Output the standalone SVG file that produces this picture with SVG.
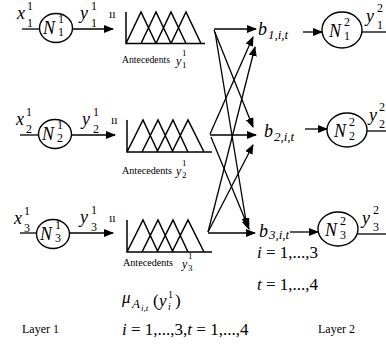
<svg xmlns="http://www.w3.org/2000/svg" width="386" height="347" viewBox="0 0 386 347">
<defs>
<marker id="ah" markerWidth="10" markerHeight="8" refX="9" refY="4" orient="auto" markerUnits="userSpaceOnUse">
<path d="M0,0 L10,4 L0,8 Z" fill="#000"/>
</marker>
<style>
text{font-family:"Liberation Serif","Times New Roman",serif;fill:#000}
.it{font-style:italic}
.m{font-size:18px;font-style:italic}
.s{font-size:12px}
.si{font-size:13px;font-style:italic}
.lbl{font-size:11px}
.sm{font-size:9px}
.b{font-size:18px;font-style:italic}
.node{fill:#fff;stroke:#000;stroke-width:1.4}
.ln{fill:none;stroke:#000;stroke-width:1.3}
.ar{fill:none;stroke:#000;stroke-width:1.3;marker-end:url(#ah)}
.fz{fill:none;stroke:#000;stroke-width:1.5}
</style>
</defs>
<rect width="386" height="347" fill="#fff"/>

<!-- Layer 1 neurons -->
<g id="n11">
<line class="ln" x1="22" y1="29" x2="40" y2="29"/>
<ellipse class="node" cx="56" cy="28" rx="16.5" ry="14.5"/>
<text class="m" x="17" y="19">x</text><text class="s" x="27" y="10">1</text><text class="s" x="27" y="27">1</text>
<text class="m" x="43" y="34">N</text><text class="s" x="58" y="23">1</text><text class="s" x="58" y="36">1</text>
<line class="ar" x1="72" y1="29" x2="113" y2="29"/>
<text class="m" x="80" y="19">y</text><text class="s" x="91" y="10">1</text><text class="s" x="91" y="27">1</text>
<text x="109" y="18" style="font-size:12px">ıı</text>
</g>
<g id="n21">
<line class="ln" x1="20" y1="135" x2="39" y2="135"/>
<ellipse class="node" cx="55" cy="134" rx="16.5" ry="14.5"/>
<text class="m" x="16" y="125">x</text><text class="s" x="26" y="116">1</text><text class="s" x="26" y="133">2</text>
<text class="m" x="42" y="140">N</text><text class="s" x="57" y="129">1</text><text class="s" x="57" y="142">2</text>
<line class="ar" x1="71" y1="135" x2="115" y2="135"/>
<text class="m" x="82" y="125">y</text><text class="s" x="93" y="116">1</text><text class="s" x="93" y="133">2</text>
<text x="111" y="124" style="font-size:12px">ıı</text>
</g>
<g id="n31">
<line class="ln" x1="20" y1="233" x2="37" y2="233"/>
<ellipse class="node" cx="53" cy="234" rx="16.5" ry="14.5"/>
<text class="m" x="14" y="224">x</text><text class="s" x="24" y="215">1</text><text class="s" x="24" y="232">3</text>
<text class="m" x="40" y="240">N</text><text class="s" x="55" y="229">1</text><text class="s" x="55" y="242">3</text>
<line class="ar" x1="69" y1="233" x2="113" y2="233"/>
<text class="m" x="80" y="223">y</text><text class="s" x="91" y="214">1</text><text class="s" x="91" y="231">3</text>
<text x="109" y="222" style="font-size:12px">ıı</text>
</g>

<!-- Fuzzy antecedent sets -->
<g id="f1">
<path class="fz" d="M126,12 V43.5 H205 M126,43.5 L141,12 L156,43.5 M141,43.5 L156,12 L171,43.5 M156,43.5 L171,12 L186,43.5 M171,43.5 L186,12 L201,43.5"/>
<text class="lbl" x="122" y="63" textLength="48" lengthAdjust="spacingAndGlyphs">Antecedents</text>
<text class="si" x="176" y="65" style="font-size:12px">y</text><text class="sm" x="182" y="56">1</text><text class="sm" x="182" y="68">1</text>
</g>
<g id="f2">
<path class="fz" d="M127,120 V152 H212 M127,152 L143,120 L158,152 M142,152 L158,120 L173,152 M157,152 L173,120 L188,152 M172,152 L188,120 L204,152"/>
<text class="lbl" x="122" y="174" textLength="50" lengthAdjust="spacingAndGlyphs">Antecedents</text>
<text class="si" x="176" y="175" style="font-size:12px">y</text><text class="sm" x="182" y="166">1</text><text class="sm" x="182" y="178">2</text>
</g>
<g id="f3">
<path class="fz" d="M127,220 V252 H212 M127,252 L143,220 L158,252 M142,252 L158,220 L173,252 M157,252 L173,220 L188,252 M172,252 L188,220 L204,252"/>
<text class="lbl" x="123" y="266" textLength="50" lengthAdjust="spacingAndGlyphs">Antecedents</text>
<text class="si" x="182" y="268" style="font-size:12px">y</text><text class="sm" x="188" y="259">1</text><text class="sm" x="188" y="271">3</text>
</g>

<!-- connectors (fan-out) -->
<g id="connectors">
<line class="ar" x1="214" y1="29" x2="256" y2="29"/>
<line class="ar" x1="214" y1="30" x2="253" y2="127"/>
<line class="ar" x1="215" y1="32" x2="247" y2="227"/>
<line class="ar" x1="210" y1="134" x2="253" y2="37"/>
<line class="ar" x1="210" y1="135" x2="256" y2="135"/>
<line class="ar" x1="211" y1="137" x2="249" y2="229"/>
<line class="ar" x1="208" y1="232" x2="255" y2="47"/>
<line class="ar" x1="208" y1="232" x2="253" y2="145"/>
<line class="ar" x1="208" y1="233" x2="255" y2="233"/>
</g>

<!-- b nodes -->
<g id="b1">
<text class="b" x="258" y="35">b</text><text class="si" x="268" y="39">1,i,t</text>
</g>
<g id="b2">
<text class="b" x="264" y="137">b</text><text class="si" x="274" y="141">2,i,t</text>
</g>
<g id="b3">
<text class="b" x="259" y="237">b</text><text class="si" x="269" y="239">3,i,t</text>
<text x="257" y="258" style="font-size:17px"><tspan class="it">i</tspan> = 1,...,3</text>
<text x="257" y="290" style="font-size:17px"><tspan class="it">t</tspan> = 1,...,4</text>
</g>

<!-- Layer 2 neurons -->
<g id="n12">
<line class="ar" x1="303" y1="32" x2="322" y2="32"/>
<ellipse class="node" cx="342" cy="30" rx="20" ry="18"/>
<text class="m" x="329" y="37">N</text><text class="s" x="344" y="26">2</text><text class="s" x="344" y="40">1</text>
<line class="ln" x1="362" y1="32" x2="386" y2="32"/>
<text class="m" x="366" y="22">y</text><text class="s" x="377" y="12">2</text><text class="s" x="377" y="29">1</text>
</g>
<g id="n22">
<line class="ar" x1="305" y1="129" x2="327" y2="129"/>
<ellipse class="node" cx="347" cy="130" rx="20" ry="17"/>
<text class="m" x="334" y="137">N</text><text class="s" x="349" y="126">2</text><text class="s" x="349" y="140">2</text>
<line class="ln" x1="367" y1="131" x2="386" y2="131"/>
<text class="m" x="369" y="121">y</text><text class="s" x="379" y="111">2</text><text class="s" x="379" y="128">2</text>
</g>
<g id="n32">
<line class="ar" x1="290" y1="232" x2="318" y2="232"/>
<ellipse class="node" cx="338" cy="229" rx="20" ry="17"/>
<text class="m" x="325" y="236">N</text><text class="s" x="340" y="225">2</text><text class="s" x="340" y="239">3</text>
<line class="ln" x1="358" y1="234" x2="386" y2="234"/>
<text class="m" x="362" y="224">y</text><text class="s" x="373" y="214">2</text><text class="s" x="373" y="231">3</text>
</g>

<!-- bottom labels -->
<text class="m" x="122" y="303" style="font-size:17px">μ</text>
<text class="it" x="132" y="308" style="font-size:13px">A</text>
<text class="it" x="141" y="311" style="font-size:9px">i,t</text>
<text x="153" y="306" style="font-size:17px">(</text>
<text class="m" x="159" y="306" style="font-size:17px">y</text>
<text x="168" y="298" style="font-size:10px">1</text>
<text class="it" x="168" y="310" style="font-size:10px">i</text>
<text x="175" y="306" style="font-size:17px">)</text>
<text x="122" y="335" style="font-size:17px"><tspan class="it">i</tspan> = 1,...,3,<tspan class="it">t</tspan> = 1,...,4</text>
<text x="22" y="333" style="font-size:12px">Layer 1</text>
<text x="318" y="333" style="font-size:12px">Layer 2</text>
</svg>
